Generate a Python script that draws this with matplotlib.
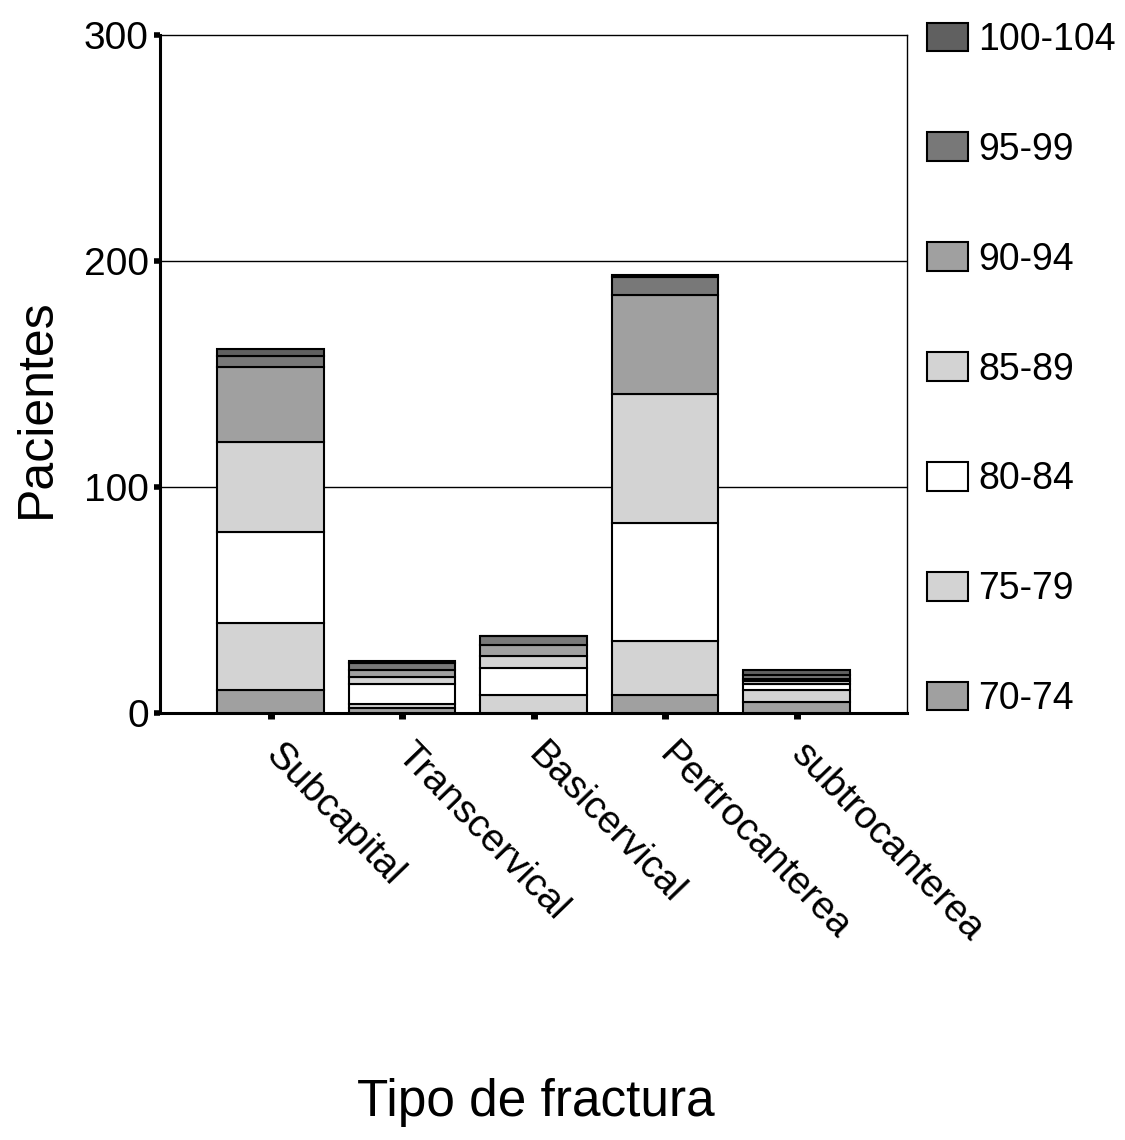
# Gráfico de barras apiladas: pacientes por tipo de fractura y grupo de edad
import numpy as np
import matplotlib.pyplot as plt

plt.rcParams['font.family'] = ['Liberation Sans', 'DejaVu Sans']

# Categorías del eje x
categorias = ['Subcapital', 'Transcervical', 'Basicervical', 'Pertrocanterea', 'subtrocanterea']

# Grupos de edad (de abajo hacia arriba)
grupos = ['70-74', '75-79', '80-84', '85-89', '90-94', '95-99', '100-104']

# Pacientes por grupo de edad, un valor por categoría
g70_74 = [10, 2, 0, 8, 5]
g75_79 = [30, 2, 8, 24, 5]
g80_84 = [40, 9, 12, 52, 3]
g85_89 = [40, 3, 5, 57, 1]
g90_94 = [33, 3, 5, 44, 1]
g95_99 = [5, 3, 4, 8, 2]
g100_104 = [3, 1, 0, 1, 2]

series = [g70_74, g75_79, g80_84, g85_89, g90_94, g95_99, g100_104]
colores = ['#a0a0a0', '#d3d3d3', '#ffffff', '#d3d3d3', '#a0a0a0', '#787878', '#606060']

fig = plt.figure(figsize=(11.25, 11.4), dpi=100)
ax = fig.add_axes([0.142, 0.3746, 0.664, 0.5947])

x = np.arange(len(categorias))
base = np.zeros(len(categorias))
barras = []
for valores, color, nombre in zip(series, colores, grupos):
    b = ax.bar(x, valores, bottom=base, width=0.81, color=color,
               edgecolor='black', linewidth=1.5, label=nombre, zorder=3)
    barras.append(b)
    base += np.array(valores)

ax.set_ylim(0, 300)
ax.set_xlim(-0.844, 4.837)
ax.set_yticks([0, 100, 200, 300])
ax.set_xticks(x)
ax.set_xticklabels(categorias, rotation=-46, ha='left', va='center',
                   rotation_mode='anchor', fontsize=28)
ax.tick_params(axis='y', labelsize=28, length=4, width=4, direction='out', pad=4)
ax.tick_params(axis='x', length=4, width=5, direction='out', pad=22)

# Líneas de referencia
for v in [100, 200]:
    ax.axhline(v, color='black', linewidth=1.0, zorder=1)

ax.spines['left'].set_linewidth(2.2)
ax.spines['bottom'].set_linewidth(2.2)
ax.spines['top'].set_linewidth(1.0)
ax.spines['right'].set_linewidth(1.0)

ax.set_ylabel('Pacientes', fontsize=36)
ax.yaxis.set_label_coords(-0.134, 0.45)
fig.text(0.476, 0.033, 'Tipo de fractura', fontsize=37, ha='center', va='center')

# Leyenda en orden inverso (100-104 arriba)
leg = ax.legend(barras[::-1], grupos[::-1], loc='upper left',
                bbox_to_anchor=(0.992, 1.058), frameon=False, fontsize=27,
                handlelength=1.09, handleheight=0.8, handletextpad=0.27,
                labelspacing=1.97, borderaxespad=0.3)

fig.savefig('out.png', dpi=100)
